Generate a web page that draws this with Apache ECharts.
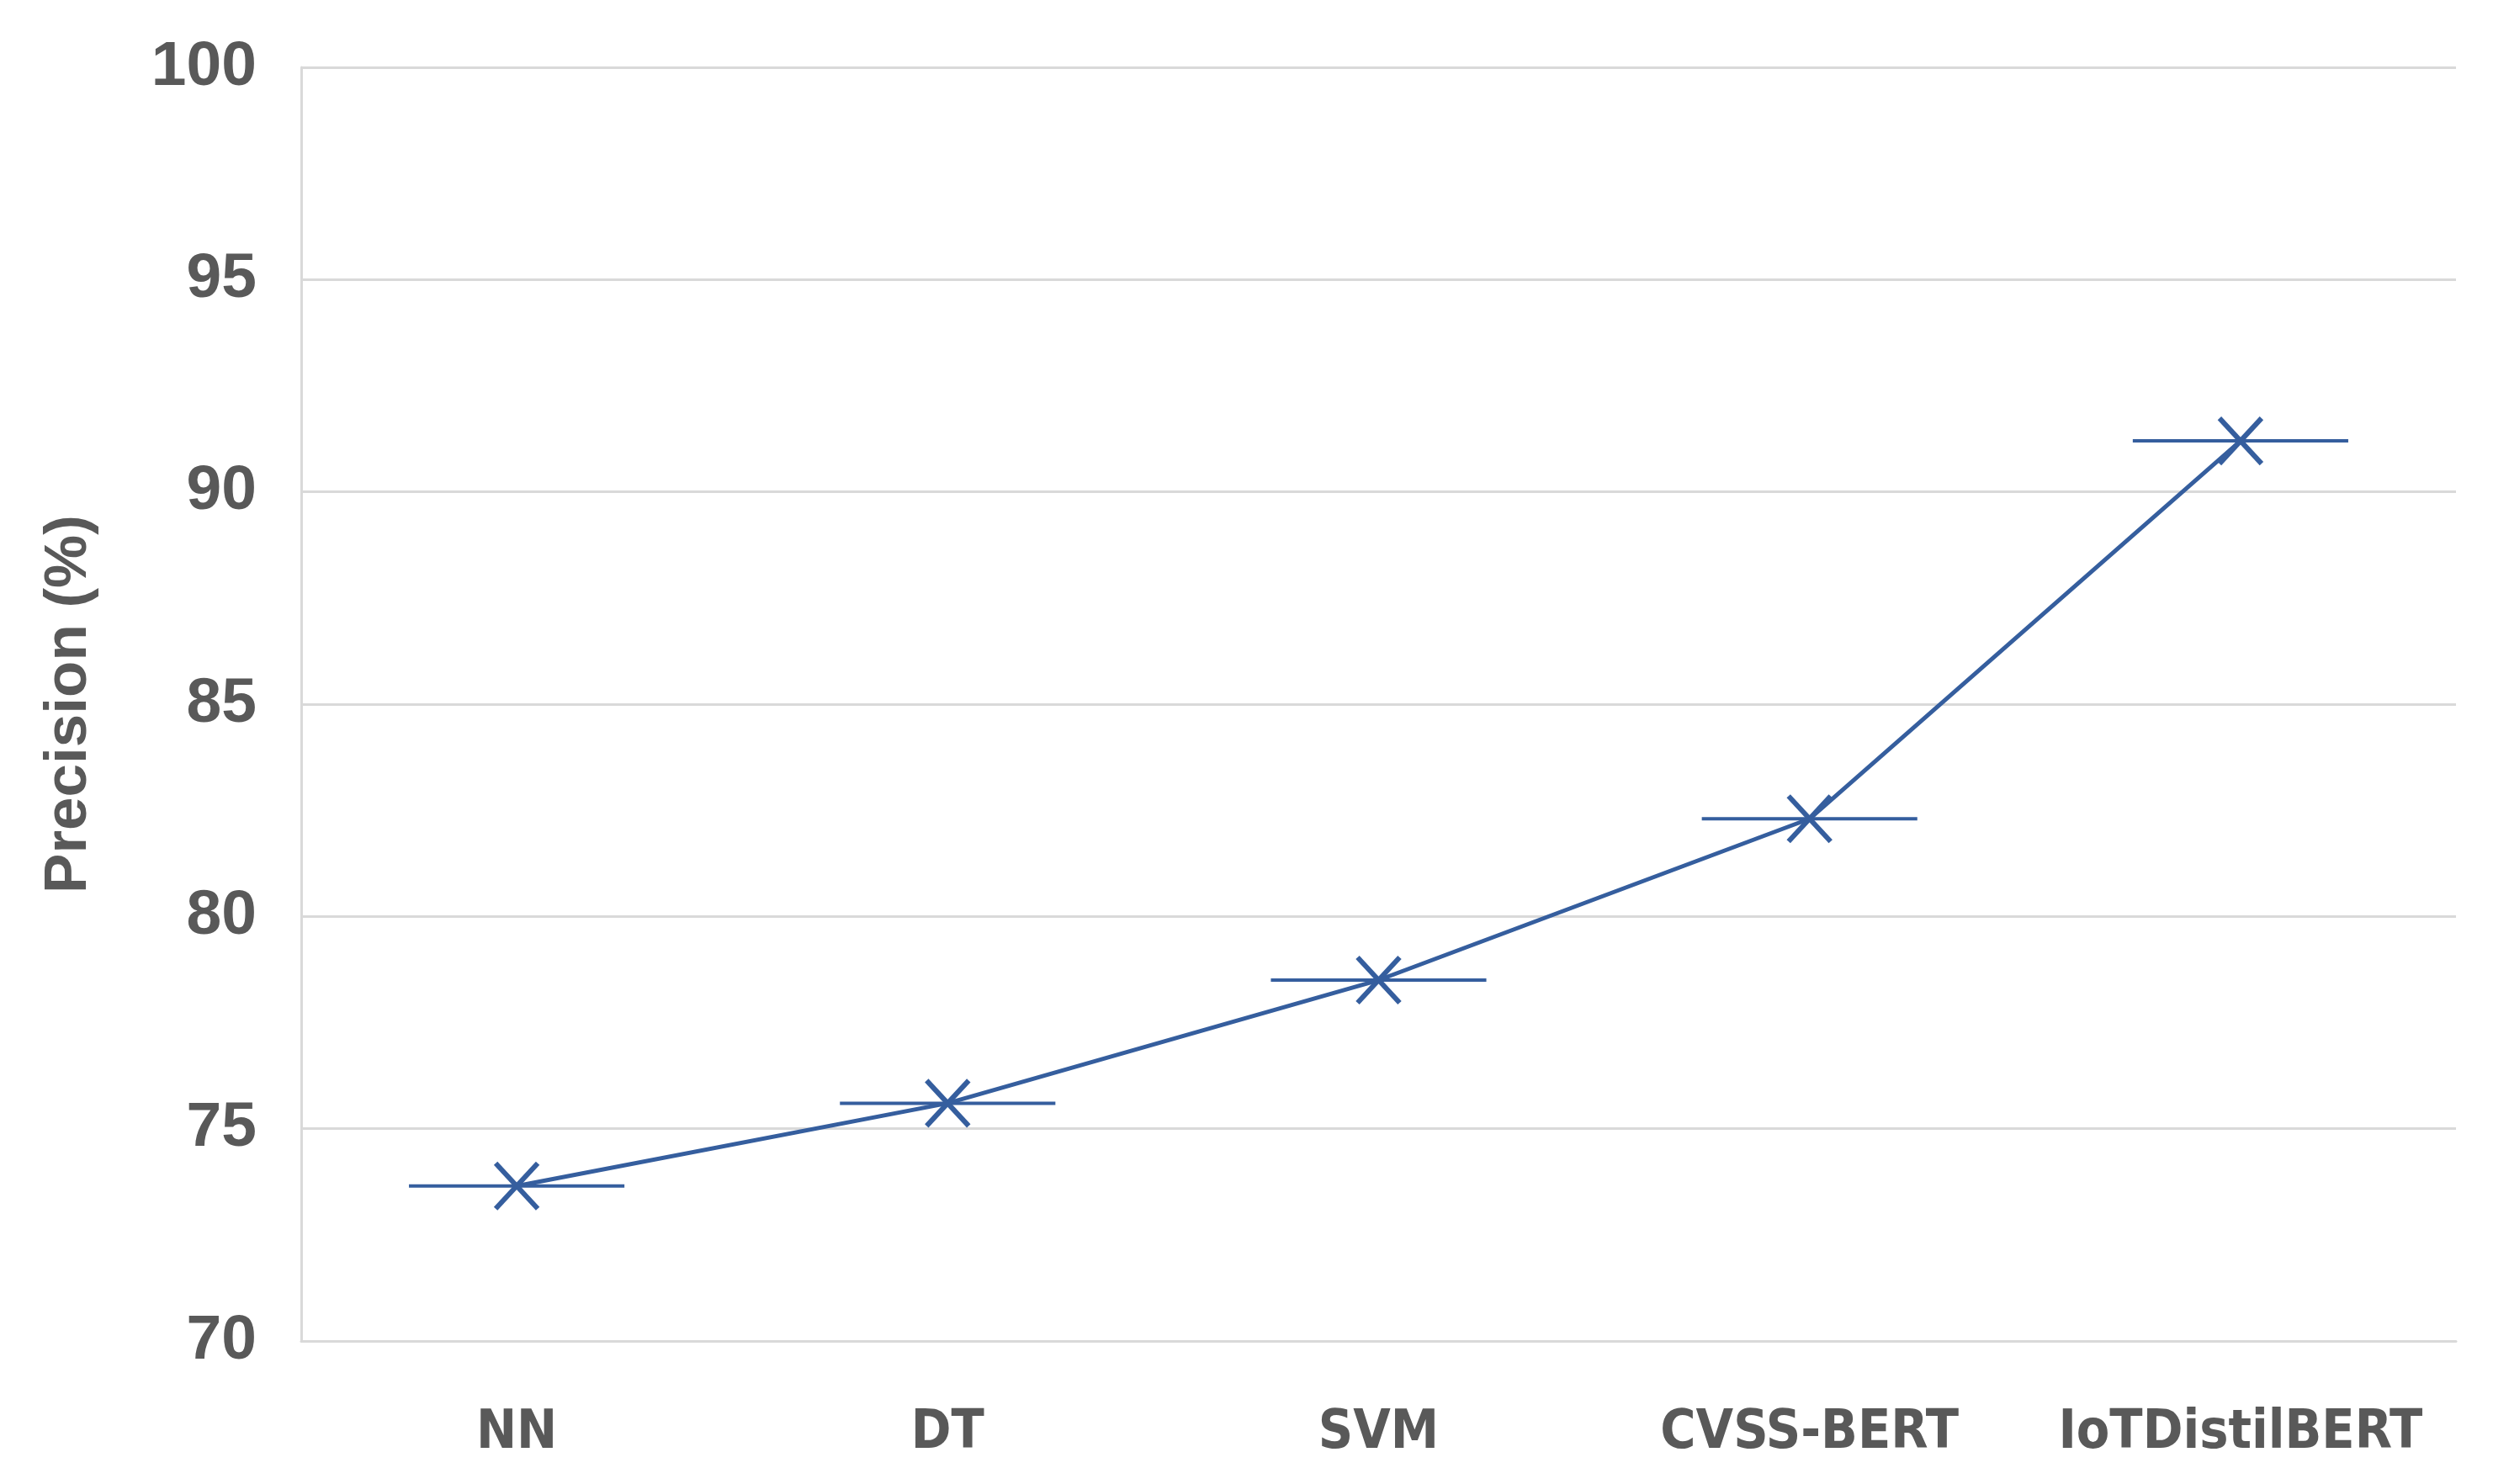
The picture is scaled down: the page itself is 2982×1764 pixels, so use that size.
<!DOCTYPE html>
<html>
<head>
<meta charset="utf-8">
<script src="https://cdn.jsdelivr.net/npm/echarts@6/dist/echarts.min.js"></script>
<style>
html,body{margin:0;padding:0;background:#fff;}
#chart{width:2982px;height:1764px;}
</style>
</head>
<body>
<div id="chart"></div>
<script>
const categories = ['NN', 'DT', 'SVM', 'CVSS-BERT', 'IoTDistilBERT'];
const precision = [73.65, 75.6, 78.5, 82.3, 91.2];
const yTicks = [70, 75, 80, 85, 90, 95, 100];

const LINE_COLOR = '#355E9E';
const LABEL_COLOR = '#595959';
const GRID_COLOR = '#D9D9D9';

const chart = echarts.init(document.getElementById('chart'));
chart.setOption({
  backgroundColor: '#ffffff',
  animation: false,
  grid: { left: 358, right: 63, top: 80, bottom: 170, containLabel: false },
  xAxis: {
    type: 'category',
    data: categories,
    boundaryGap: true,
    axisLine: { show: true, lineStyle: { color: GRID_COLOR, width: 3 } },
    axisTick: { show: false },
    axisLabel: {
      interval: 0,
      color: LABEL_COLOR, fontSize: 64, fontWeight: 'bold',
      fontFamily: 'Liberation Sans Narrow, DejaVu Sans Condensed, Liberation Sans, Arial, sans-serif', margin: 78
    },
    splitLine: { show: false }
  },
  yAxis: {
    type: 'value',
    min: yTicks[0], max: yTicks[yTicks.length - 1], interval: 5,
    name: 'Precision (%)',
    nameLocation: 'middle',
    nameRotate: 90,
    nameGap: 240,
    nameTextStyle: {
      color: LABEL_COLOR, fontSize: 71, fontWeight: 'bold',
      fontFamily: 'Liberation Sans, Arial, sans-serif'
    },
    axisLine: { show: true, lineStyle: { color: GRID_COLOR, width: 3 } },
    axisTick: { show: false },
    axisLabel: {
      color: LABEL_COLOR, fontSize: 75, fontWeight: 'bold',
      fontFamily: 'Liberation Sans, Arial, sans-serif', margin: 53
    },
    splitLine: { show: true, lineStyle: { color: GRID_COLOR, width: 3 } }
  },
  series: [
    {
      type: 'line',
      data: precision,
      symbol: 'none',
      lineStyle: { color: LINE_COLOR, width: 5 },
      z: 2
    },
    {
      type: 'custom',
      data: precision.map((v, i) => [i, v]),
      z: 3,
      renderItem: function (params, api) {
        const pt = api.coord([api.value(0), api.value(1)]);
        const bw = api.size([1, 0])[0];
        const hw = bw * 0.25;
        const sx = 25, sy = 27;
        return {
          type: 'group',
          children: [
            { type: 'line', shape: { x1: pt[0] - hw, y1: pt[1], x2: pt[0] + hw, y2: pt[1] }, style: { stroke: LINE_COLOR, lineWidth: 4 } },
            { type: 'line', shape: { x1: pt[0] - sx, y1: pt[1] - sy, x2: pt[0] + sx, y2: pt[1] + sy }, style: { stroke: LINE_COLOR, lineWidth: 6 } },
            { type: 'line', shape: { x1: pt[0] - sx, y1: pt[1] + sy, x2: pt[0] + sx, y2: pt[1] - sy }, style: { stroke: LINE_COLOR, lineWidth: 6 } }
          ]
        };
      }
    }
  ]
});
</script>
</body>
</html>
